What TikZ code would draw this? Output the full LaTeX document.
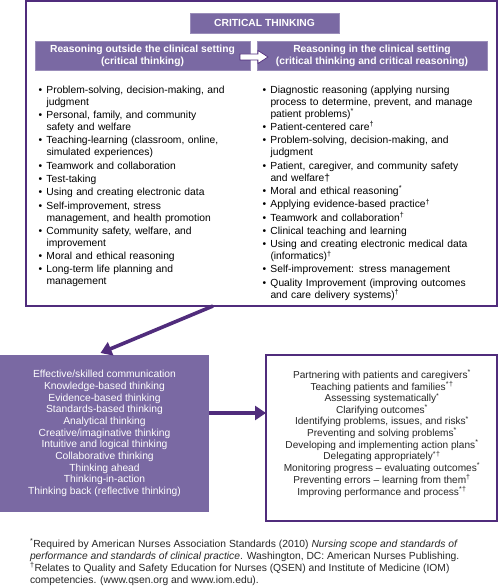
\documentclass[tikz,border=0pt]{standalone}
\usepackage{fontspec}
\setmainfont{Liberation Sans}
\usetikzlibrary{arrows.meta}
\definecolor{pfill}{RGB}{122,105,163}
\definecolor{pline}{RGB}{80,44,124}
\newcommand{\bitem}[1]{\par\noindent\hangindent=8pt\hangafter=1\makebox[8pt][l]{\textbullet}#1\par}
\newcommand{\sa}{\textsuperscript{*}}
\newcommand{\sd}{\textsuperscript{†}}
\begin{document}
\begin{tikzpicture}[x=1pt,y=-1pt,
  box/.style={draw=pline,line width=1.4pt,inner sep=0pt,outer sep=0pt,anchor=north west},
  pbox/.style={fill=pfill,draw=pfill!75!white,line width=0.6pt,inner sep=0pt,outer sep=0pt,anchor=north west,text=white,align=center},
  big/.style={draw=pline,line width=3.6pt,-{Triangle[length=11pt,width=14pt]}},
  txt/.style={font=\fontsize{10.3}{12}\selectfont,inner sep=0pt,outer sep=0pt},
  list/.style={txt,anchor=north west,align=left,execute at begin node={\setlength{\parskip}{1.3pt}}},
]
\useasboundingbox (0,0) rectangle (500,588);
\fill[white] (0,0) rectangle (500,588);

% top frame
\node[box,minimum width=471pt,minimum height=305pt] (outer) at (26,1) {};
\node[pbox,txt,font=\fontsize{10.3}{12}\selectfont\bfseries,minimum width=149pt,minimum height=20pt] (ct) at (190,13) {CRITICAL THINKING};
\node[pbox,txt,font=\fontsize{10.3}{12}\selectfont\bfseries,minimum width=215pt,minimum height=29pt] (lh) at (35,41) {Reasoning outside the clinical setting\\(critical thinking)};
\node[pbox,txt,font=\fontsize{10.3}{12}\selectfont\bfseries,minimum width=230pt,minimum height=29pt] (rh) at (257,41) {Reasoning in the clinical setting\\(critical thinking and critical reasoning)};
\draw[fill=white,draw=pline,line width=0.7pt] (240,54) -- (258,54) -- (258,50.5) -- (268,57) -- (258,63.5) -- (258,60) -- (240,60) -- cycle;

\node[list,text width=225pt] (ll1) at (38.5,80) {%
\bitem{Problem-solving, decision-making, and\newline judgment}
\bitem{Personal, family, and community\newline safety and welfare}
\bitem{Teaching-learning (classroom, online,\newline simulated experiences)}
\bitem{Teamwork and collaboration}
\bitem{Test-taking}
\bitem{Using and creating electronic data}
\bitem{Self-improvement, stress\newline management, and health promotion}
\bitem{Community safety, welfare, and\newline improvement}
\bitem{Moral and ethical reasoning}
\bitem{Long-term life planning and\newline management}};

\node[list,text width=228pt] (rl1) at (262.5,80) {%
\bitem{Diagnostic reasoning (applying nursing\newline process to determine, prevent, and manage\newline patient problems)\sa}
\bitem{Patient-centered care\sd}
\bitem{Problem-solving, decision-making, and\newline judgment}
\bitem{Patient, caregiver, and community safety\newline and welfare†}
\bitem{Moral and ethical reasoning\sa}
\bitem{Applying evidence-based practice\sd}
\bitem{Teamwork and collaboration\sd}
\bitem{Clinical teaching and learning}
\bitem{Using and creating electronic medical data\newline (informatics)\sd}
\bitem{Self-improvement: stress management}
\bitem{Quality Improvement (improving outcomes\newline and care delivery systems)\sd}};

% lower boxes
\node[pbox,txt,font=\fontsize{10.3}{11.7}\selectfont,draw=none,minimum width=209pt,minimum height=157pt] (ll) at (0,355) {Effective/skilled communication\\Knowledge-based thinking\\Evidence-based thinking\\Standards-based thinking\\Analytical thinking\\Creative/imaginative thinking\\Intuitive and logical thinking\\Collaborative thinking\\Thinking ahead\\Thinking-in-action\\Thinking back (reflective thinking)};

\node[box,minimum width=231pt,minimum height=166pt] (rb) at (266,355) {};
\node[txt,font=\fontsize{10.1}{10.1}\selectfont,align=center,text=black!85] (rbt) at (382,433.5) {Partnering with patients and caregivers\sa\\Teaching patients and families\sa\sd\\Assessing systematically\sa\\Clarifying outcomes\sa\\Identifying problems, issues, and risks\sa\\Preventing and solving problems\sa\\Developing and implementing action plans\sa\\Delegating appropriately\sa\sd\\Monitoring progress -- evaluating outcomes\sa\\Preventing errors -- learning from them\sd\\Improving performance and process\sa\sd};

% connectors
\draw[big] ([xshift=-48.5pt]outer.south) -- ([xshift=-4pt,yshift=2pt]ll.north);
\draw[big] ([yshift=20.5pt]ll.east) -- ([yshift=20.5pt]ll.east -| rb.west);

% footnote
\node[txt,anchor=north west,align=left,text=black!85] (fn) at (30,538.5) {\sa Required by American Nurses Association Standards (2010) \textit{Nursing scope and standards of}\\\textit{performance and standards of clinical practice}. Washington, DC: American Nurses Publishing.\\\sd Relates to Quality and Safety Education for Nurses (QSEN) and Institute of Medicine (IOM)\\competencies. (www.qsen.org and www.iom.edu).};
\end{tikzpicture}
\end{document}
